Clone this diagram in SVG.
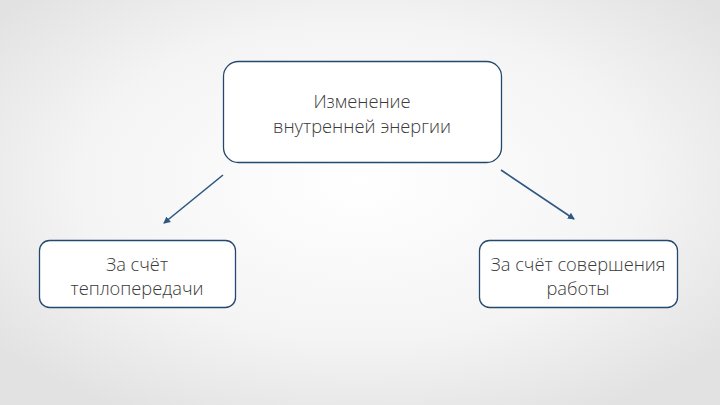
<svg xmlns="http://www.w3.org/2000/svg" width="720" height="405" viewBox="0 0 720 405">
<defs>
<radialGradient id="bg" cx="50%" cy="45%" r="65%">
<stop offset="0" stop-color="#ffffff"/>
<stop offset="0.6" stop-color="#f4f4f4"/>
<stop offset="1" stop-color="#e2e2e2"/>
</radialGradient>
<marker id="ah" markerWidth="8" markerHeight="8" refX="6" refY="4" orient="auto" markerUnits="userSpaceOnUse">
<path d="M0,0.5 L7,4 L0,7.5 Z" fill="#2c5882"/>
</marker>
<style>
.box{fill:#ffffff;stroke:#24496e;stroke-width:1.3}
.t{font-family:"Open Sans","Noto Sans","DejaVu Sans",sans-serif;font-size:18.3px;font-weight:300;fill:#3a3a3a;text-anchor:middle}
.c{stroke:#2c5882;stroke-width:1.6;fill:none;marker-end:url(#ah)}
</style>
</defs>
<rect width="720" height="405" fill="url(#bg)"/>
<g id="top">
<rect class="box" x="223.5" y="61.5" width="278" height="101" rx="15"/>
<text class="t" x="362" y="108">Изменение</text>
<text class="t" x="362" y="133">внутренней энергии</text>
</g>
<g id="left">
<rect class="box" x="39.5" y="240.5" width="196" height="67" rx="10"/>
<text class="t" x="137" y="271">За счёт</text>
<text class="t" x="137" y="295">теплопередачи</text>
</g>
<g id="right">
<rect class="box" x="479.5" y="240.5" width="198" height="67" rx="10"/>
<text class="t" x="578" y="271">За счёт совершения</text>
<text class="t" x="578" y="295">работы</text>
</g>
<g id="connectors">
<line class="c" x1="223" y1="175" x2="164" y2="223"/>
<line class="c" x1="501" y1="170" x2="574" y2="219"/>
</g>
</svg>
